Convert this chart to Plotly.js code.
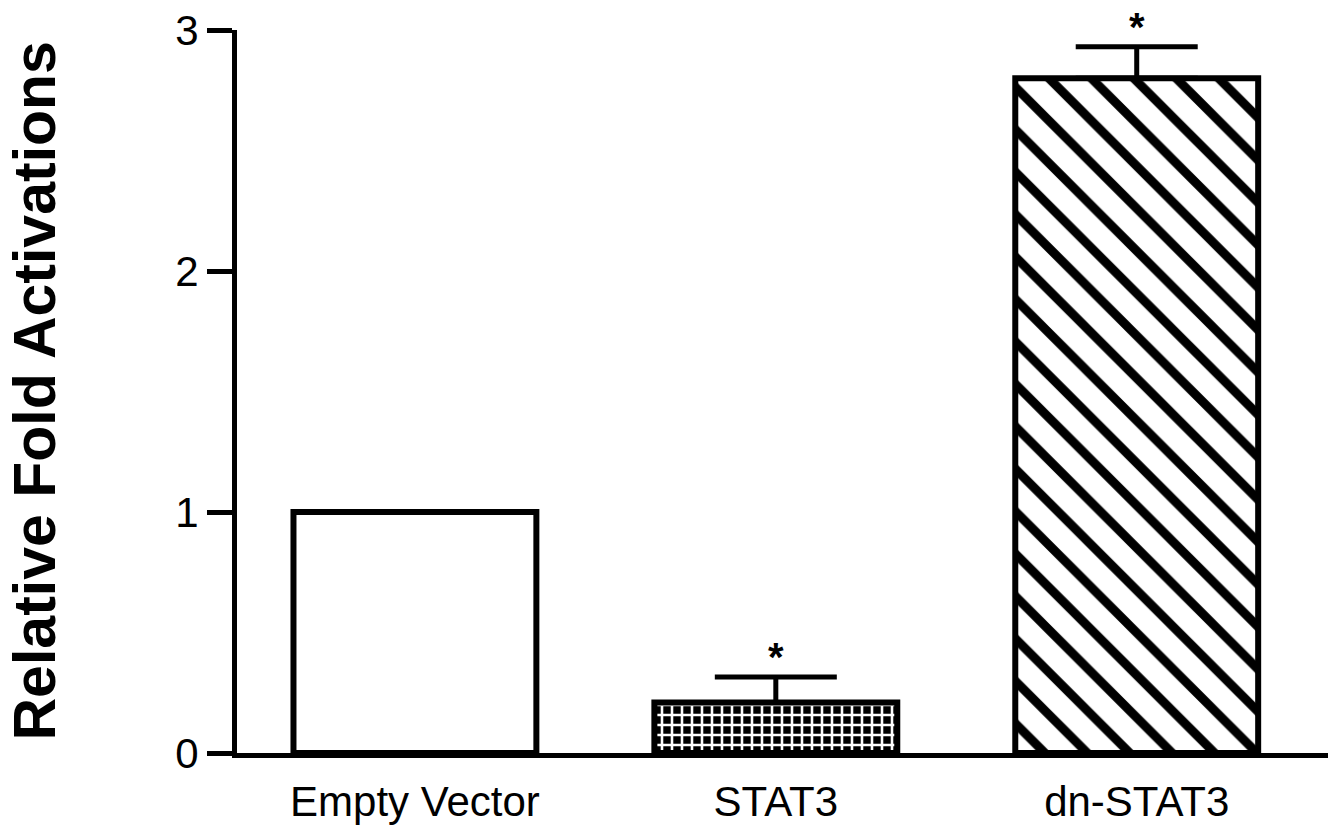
<!DOCTYPE html>
<html>
<head>
<meta charset="utf-8">
<script src="https://cdn.plot.ly/plotly-3.0.1.min.js"></script>
<style>html,body{margin:0;padding:0;background:#fff;}#chart{width:1328px;height:835px;}</style>
</head>
<body>
<div id="chart"></div>
<script>
const categories = ["Empty Vector", "STAT3", "dn-STAT3"];
const foldValues = [1.0, 0.21, 2.80];
const errorUp = [0, 0.105, 0.13];
const significance = ["", "*", "*"];
const yTickValues = [0, 1, 2, 3];
const yTickLabels = ["0", "1", "2", "3"];
const yTitle = "Relative Fold Activations";

const FONT = "'Liberation Sans', Arial, sans-serif";

const patterns = [
  {shape: "", fgcolor: "#000000", bgcolor: "#ffffff", size: 10, solidity: 0.3},
  {shape: "+", fgcolor: "#ffffff", bgcolor: "#000000", size: 10, solidity: 0.45},
  {shape: "\\", fgcolor: "#000000", bgcolor: "#ffffff", size: 30, solidity: 0.3}
];

const traces = categories.map((c, i) => ({
  type: "bar",
  x: [c],
  y: [foldValues[i]],
  width: 0.673,
  marker: {
    color: patterns[i].bgcolor,
    line: {color: "#000000", width: 6},
    pattern: patterns[i].shape ? {
      shape: patterns[i].shape,
      fgcolor: patterns[i].fgcolor,
      bgcolor: patterns[i].bgcolor,
      fgopacity: 1,
      size: patterns[i].size,
      solidity: patterns[i].solidity,
      fillmode: "replace"
    } : undefined
  },
  error_y: {
    type: "data",
    symmetric: false,
    array: [errorUp[i]],
    arrayminus: [0],
    color: "#000000",
    thickness: 5,
    width: 61,
    visible: errorUp[i] > 0
  },
  hoverinfo: "none"
}));

const annotations = categories.map((c, i) => ({
  x: c, y: foldValues[i] + errorUp[i], xref: "x", yref: "y",
  text: "<b>" + significance[i] + "</b>", showarrow: false, yanchor: "bottom", yshift: -4,
  font: {family: FONT, size: 40, color: "#000"}, raw: significance[i]
})).filter(a => a.raw).map(a => { delete a.raw; return a; });

annotations.push({
  xref: "paper", yref: "paper", x: 0, y: 0.5, xshift: -203, xanchor: "center", yanchor: "middle",
  text: "<b>" + yTitle + "</b>", textangle: -90, showarrow: false,
  font: {family: FONT, size: 59, color: "#000"}
});

const layout = {
  width: 1328, height: 835,
  margin: {l: 237, r: 0, t: 30, b: 82},
  paper_bgcolor: "#fff", plot_bgcolor: "#fff",
  showlegend: false,
  barmode: "overlay",
  xaxis: {
    type: "category",
    range: [-0.493, 2.53],
    showline: true, linecolor: "#000", linewidth: 5,
    ticks: "outside", ticklen: 8, tickcolor: "rgba(0,0,0,0)",
    tickfont: {family: FONT, size: 42, color: "#000"},
    showgrid: false, zeroline: false, fixedrange: true
  },
  yaxis: {
    range: [0, 3],
    tickvals: yTickValues, ticktext: yTickLabels,
    showline: true, linecolor: "#000", linewidth: 5,
    ticks: "outside", ticklen: 25, tickwidth: 5, tickcolor: "#000",
    tickfont: {family: FONT, size: 42, color: "#000"},
    showgrid: false, zeroline: false, fixedrange: true
  },
  annotations: annotations
};

Plotly.newPlot("chart", traces, layout, {staticPlot: true, displayModeBar: false});
</script>
</body>
</html>
